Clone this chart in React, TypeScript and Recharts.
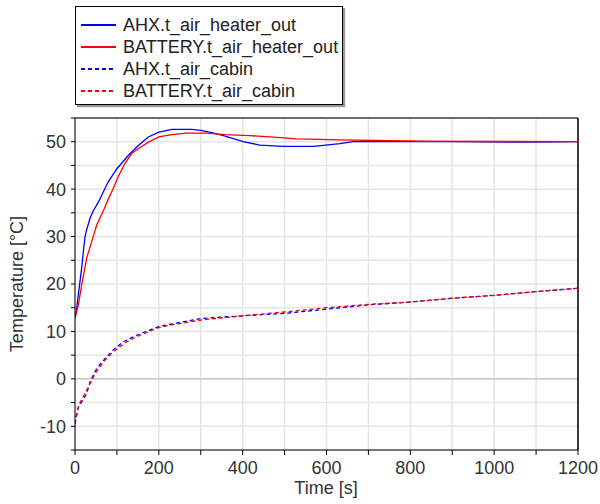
import React from 'react';
import { LineChart, Line, XAxis, YAxis, CartesianGrid, ReferenceLine, Legend } from 'recharts';

const ahxHeaterTime = [0, 4, 8, 12, 16, 20, 24, 28, 36, 44, 56, 68, 79, 100, 127, 151, 175, 200, 231, 278, 300, 326, 354, 401, 441, 497, 570, 632, 664, 720, 900, 1100, 1200];
const ahxHeaterTemp = [12.8, 14.9, 17.8, 20.6, 23.5, 26.9, 30.0, 31.5, 33.9, 35.5, 37.3, 39.5, 41.5, 44.3, 47.1, 49.2, 51.0, 52.0, 52.6, 52.6, 52.4, 51.9, 51.3, 50.0, 49.3, 49.0, 49.0, 49.6, 50.0, 50.0, 50.0, 49.9, 50.0];

const batHeaterTime = [0, 8, 16, 28, 40, 52, 68, 80, 91, 103, 119, 135, 151, 175, 200, 231, 266, 314, 358, 417, 465, 529, 630, 839, 1200];
const batHeaterTemp = [12.8, 15.6, 19.8, 25.5, 29.0, 32.5, 35.5, 38.0, 40.1, 42.6, 45.4, 47.5, 48.5, 49.9, 51.0, 51.5, 51.8, 51.8, 51.5, 51.3, 51.0, 50.6, 50.4, 50.1, 50.0];

const ahxCabinTime = [0, 8, 28, 36, 52, 68, 91, 115, 147, 202, 300, 400, 500, 600, 700, 800, 900, 1000, 1100, 1200];
const ahxCabinTemp = [-9.5, -6.0, -3.1, -0.6, 2.2, 3.9, 6.1, 7.8, 9.2, 11.1, 12.7, 13.3, 13.8, 14.7, 15.6, 16.2, 17.0, 17.6, 18.4, 19.1];

const batCabinTime = [0, 4, 12, 32, 48, 68, 91, 123, 155, 200, 226, 300, 400, 500, 600, 700, 800, 900, 1000, 1100, 1200];
const batCabinTemp = [-9.5, -7.0, -5.0, -1.7, 1.1, 3.6, 5.7, 7.8, 9.2, 10.8, 11.3, 12.4, 13.3, 14.1, 15.0, 15.7, 16.2, 17.0, 17.6, 18.4, 19.1];

const xTicks = [0, 100, 200, 300, 400, 500, 600, 700, 800, 900, 1000, 1100, 1200];
const yTicks = [-15, -10, -5, 0, 5, 10, 15, 20, 25, 30, 35, 40, 45, 50, 55];

const seriesNames = ['AHX.t_air_heater_out', 'BATTERY.t_air_heater_out', 'AHX.t_air_cabin', 'BATTERY.t_air_cabin'];

const toData = (ts: number[], vs: number[]) => ts.map((t, i) => ({ t, v: vs[i] }));

const series = [
  { name: seriesNames[0], data: toData(ahxHeaterTime, ahxHeaterTemp), color: '#0000ff', dash: undefined as string | undefined },
  { name: seriesNames[1], data: toData(batHeaterTime, batHeaterTemp), color: '#ff0000', dash: undefined as string | undefined },
  { name: seriesNames[2], data: toData(ahxCabinTime, ahxCabinTemp), color: '#0000ff', dash: '4 3' },
  { name: seriesNames[3], data: toData(batCabinTime, batCabinTemp), color: '#ff0000', dash: '4 3' },
];

const FONT = '"Liberation Sans", Arial, sans-serif';

const renderLegend = () => (
  <div
    style={{
      width: 266,
      height: 97,
      border: '1px solid #000',
      boxShadow: '2px 2px 1px #999',
      background: '#fff',
      fontFamily: FONT,
      fontSize: 18,
      color: '#222',
      boxSizing: 'content-box',
      position: 'relative',
    }}
  >
    {series.map((s, i) => (
      <div key={s.name} style={{ position: 'absolute', left: 0, top: 7 + i * 22, height: 22, width: 266, whiteSpace: 'nowrap' }}>
        <div
          style={{
            position: 'absolute',
            left: 5,
            top: 10,
            width: 35,
            height: 1.5,
            background: s.dash
              ? `repeating-linear-gradient(to right, ${s.color} 0px, ${s.color} 4px, transparent 4px, transparent 7px)`
              : s.color,
          }}
        />
        <span style={{ position: 'absolute', left: 47, top: 0, lineHeight: '22px' }}>{s.name}</span>
      </div>
    ))}
  </div>
);

const xTickFmt = (v: number) => (v % 200 === 0 ? String(v) : '');
const yTickFmt = (v: number) => (v % 10 === 0 ? String(v) : '');

export default function App() {
  return (
    <div style={{ position: 'absolute', left: 0, top: 0, width: 600, height: 504, background: '#fff' }}>
      <LineChart width={600} height={504} margin={{ top: 118, right: 22, bottom: 0, left: 0 }}>
        <CartesianGrid stroke="#e4e4e4" strokeWidth={1.5} />
        <ReferenceLine y={0} stroke="#c8c8c8" strokeWidth={1.5} />
        <XAxis
          dataKey="t"
          type="number"
          domain={[0, 1200]}
          ticks={xTicks}
          tickFormatter={xTickFmt}
          interval={0}
          height={54}
          tickSize={5}
          tickMargin={6}
          stroke="#000"
          tick={{ fill: '#333', fontSize: 18, fontFamily: FONT }}
          allowDataOverflow
          label={{
            content: () => (
              <text x={326} y={488} textAnchor="middle" dominantBaseline="central" fill="#333" fontSize={18} fontFamily={FONT}>
                Time [s]
              </text>
            ),
          }}
        />
        <YAxis
          type="number"
          domain={[-15, 55]}
          ticks={yTicks}
          tickFormatter={yTickFmt}
          interval={0}
          width={75}
          tickSize={4}
          tickMargin={5}
          stroke="#000"
          tick={{ fill: '#333', fontSize: 18, fontFamily: FONT }}
          allowDataOverflow
          label={{
            content: () => (
              <text x={17} y={284} transform="rotate(-90 17 284)" textAnchor="middle" dominantBaseline="central" fill="#333" fontSize={18} fontFamily={FONT}>
                Temperature [°C]
              </text>
            ),
          }}
        />
        <ReferenceLine y={55} stroke="#444" strokeWidth={1.5} />
        <ReferenceLine x={1200} stroke="#000" strokeWidth={1.5} />
        {series.map((s) => (
          <Line
            key={s.name}
            data={s.data}
            dataKey="v"
            name={s.name}
            type="linear"
            stroke={s.color}
            strokeWidth={1.3}
            strokeDasharray={s.dash}
            dot={false}
            activeDot={false}
            isAnimationActive={false}
          />
        ))}
        <Legend
          layout="vertical"
          align="center"
          verticalAlign="middle"
          content={renderLegend}
          wrapperStyle={{ position: 'absolute', left: 75, top: 6, width: 268, height: 105 }}
        />
      </LineChart>
    </div>
  );
}
